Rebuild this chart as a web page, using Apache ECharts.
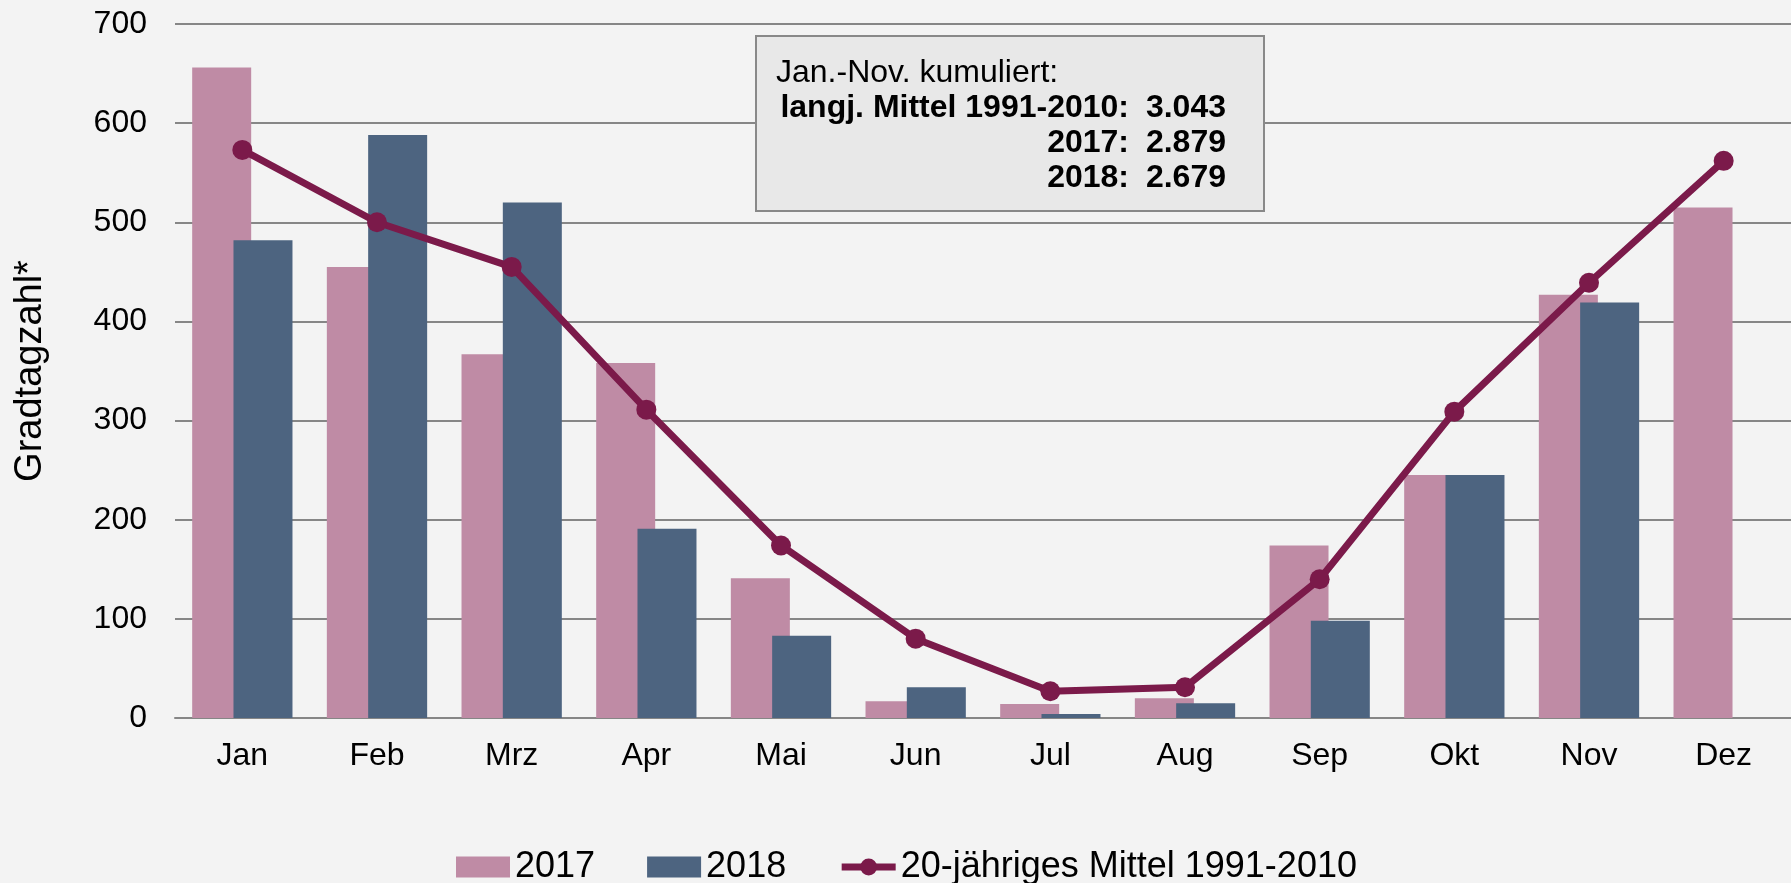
<!DOCTYPE html>
<html>
<head>
<meta charset="utf-8">
<title>Gradtagzahl</title>
<script src="https://cdn.jsdelivr.net/npm/echarts@6/dist/echarts.min.js"></script>
<style>
  html, body { margin: 0; padding: 0; background: #f3f3f3; }
  #chart { width: 1791px; height: 883px; }
</style>
</head>
<body>
<div id="chart"></div>
<script>
const months = ['Jan', 'Feb', 'Mrz', 'Apr', 'Mai', 'Jun', 'Jul', 'Aug', 'Sep', 'Okt', 'Nov', 'Dez']
const values2017 = [656, 455, 367, 358, 141, 17, 14, 20, 174, 245, 427, 515]
const values2018 = [482, 588, 520, 191, 83, 31, 4, 15, 98, 245, 419, null]
const mittel = [573, 500, 455, 311, 174, 80, 27, 31, 140, 309, 439, 562]
const yTicks = [0, 100, 200, 300, 400, 500, 600, 700]

const boxLabels = ['langj. Mittel 1991-2010:', '2017:', '2018:']
const boxValues = ['3.043', '2.879', '2.679']

const font = '"Liberation Sans", Arial, sans-serif'
const chart = echarts.init(document.getElementById('chart'))

// annotation box in the upper middle
const boxText = []
boxText.push({
  type: 'text', left: 776, top: 57,
  style: { text: 'Jan.-Nov. kumuliert:', font: '32px ' + font, fill: '#000' }
})
boxLabels.forEach((t, i) => {
  boxText.push({
    type: 'text', x: 1129, y: 108 + i * 35,
    style: { text: t, font: 'bold 32px ' + font, fill: '#000', align: 'right', verticalAlign: 'middle' }
  })
  boxText.push({
    type: 'text', x: 1226, y: 108 + i * 35,
    style: { text: boxValues[i], font: 'bold 32px ' + font, fill: '#000', align: 'right', verticalAlign: 'middle' }
  })
})

const options = {
  backgroundColor: '#f3f3f3',
  animation: false,
  textStyle: { fontFamily: font },
  grid: {
    left: 175,
    right: -10,
    top: 24,
    bottom: 165
  },
  legend: {
    left: 451,
    top: 844,
    itemWidth: 54,
    itemHeight: 21,
    itemGap: 52,
    textStyle: { fontSize: 36, color: '#000', fontFamily: font },
    data: [
      { name: '2017', icon: 'rect' },
      { name: '2018', icon: 'rect' },
      { name: '20-jähriges Mittel 1991-2010', lineStyle: { width: 7 } }
    ]
  },
  xAxis: {
    type: 'category',
    data: months,
    axisTick: { show: false },
    axisLine: { lineStyle: { color: '#868686', width: 2 } },
    axisLabel: { fontSize: 32, color: '#000', margin: 22, fontFamily: font }
  },
  yAxis: {
    type: 'value',
    min: yTicks[0],
    max: yTicks[yTicks.length - 1],
    interval: 100,
    name: 'Gradtagzahl*',
    nameLocation: 'middle',
    nameRotate: 90,
    nameGap: 125,
    nameTextStyle: { fontSize: 38, color: '#000', fontFamily: font },
    axisLine: { show: false },
    axisTick: { show: false },
    axisLabel: { fontSize: 32, color: '#000', margin: 28, fontFamily: font },
    splitLine: { lineStyle: { color: '#868686', width: 2 } }
  },
  series: [{
    name: '2017',
    type: 'bar',
    barWidth: 59,
    barGap: '-30%',
    itemStyle: { color: '#bf8ba5' },
    data: values2017
  }, {
    name: '2018',
    type: 'bar',
    barWidth: 59,
    barGap: '-30%',
    itemStyle: { color: '#4d6480' },
    data: values2018
  }, {
    name: '20-jähriges Mittel 1991-2010',
    type: 'line',
    symbol: 'circle',
    symbolSize: 20,
    z: 5,
    lineStyle: { color: '#7b1a4a', width: 7 },
    itemStyle: { color: '#7b1a4a' },
    data: mittel
  }],
  graphic: [{
    type: 'rect',
    z: 10,
    shape: { x: 756, y: 36, width: 508, height: 175 },
    style: { fill: '#e8e8e8', stroke: '#898989', lineWidth: 2 }
  }].concat(boxText.map((t) => Object.assign({ z: 11 }, t)))
}
chart.setOption(options)
</script>
</body>
</html>
